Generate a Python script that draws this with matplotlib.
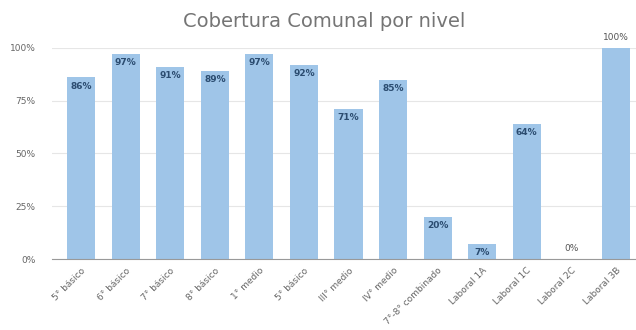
import matplotlib
matplotlib.use("Agg")
import matplotlib.pyplot as plt
from matplotlib.ticker import FuncFormatter

categories = ["5° básico", "6° básico", "7° básico", "8° básico", "1° medio",
              "5° básico", "III° medio", "IV° medio", "7°-8° combinado",
              "Laboral 1A", "Laboral 1C", "Laboral 2C", "Laboral 3B"]
values = [86, 97, 91, 89, 97, 92, 71, 85, 20, 7, 64, 0, 100]
yticks = [0, 25, 50, 75, 100]

fig = plt.figure(figsize=(6.36, 3.30), dpi=100)
ax = fig.add_axes([0.082, 0.215, 0.918, 0.64])

x = list(range(len(categories)))
ax.bar(x, values, width=0.63, color="#9fc5e8", zorder=2)

for xi, v in zip(x, values):
    if v <= 0 or v >= 100:
        ax.text(xi, v + 3, f"{v}%", ha="center", va="bottom", fontsize=6.5,
                color="#555555", clip_on=False)
    else:
        ax.text(xi, v - 2, f"{v}%", ha="center", va="top", fontsize=6.5,
                color="#2b4c70", fontweight="bold")

ax.set_xlim(-0.65, 12.45)
ax.set_ylim(0, 100)
ax.set_yticks(yticks)
ax.yaxis.set_major_formatter(FuncFormatter(lambda v, p: f"{int(v)}%"))
ax.grid(axis="y", color="#e6e6e6", linewidth=0.8, zorder=0)
for s in ["top", "right", "left"]:
    ax.spines[s].set_visible(False)
ax.spines["bottom"].set_color("#999999")
ax.tick_params(axis="both", length=0, labelsize=6.5, colors="#666666")
ax.tick_params(axis="y", pad=12)
ax.tick_params(axis="x", pad=5)
ax.set_xticks(x)
ax.set_xticklabels(categories, rotation=45, ha="right", rotation_mode="anchor")

fig.suptitle("Cobertura Comunal por nivel", x=0.51, y=0.965, fontsize=14,
             color="#757575")

fig.savefig("out.png", dpi=100, facecolor="white")
